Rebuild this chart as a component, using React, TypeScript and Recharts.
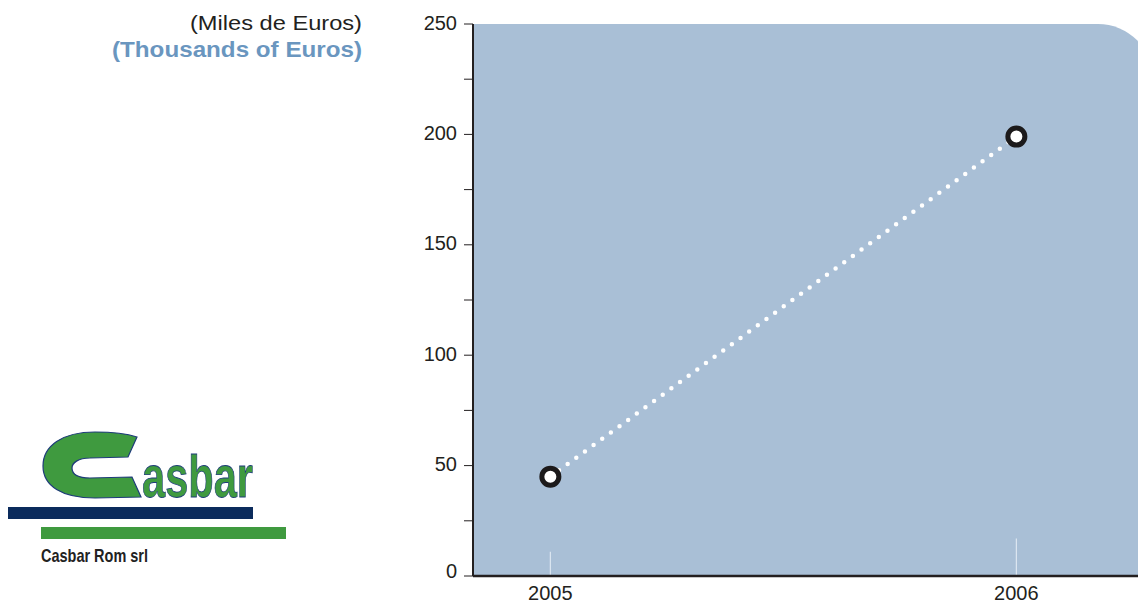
import React from 'react';
import { LineChart, Line, XAxis, YAxis, ReferenceArea, ReferenceLine } from 'recharts';

// values
const years = [2005, 2006];
const revenue = [45, 199];
const yTicks = [0, 25, 50, 75, 100, 125, 150, 175, 200, 225, 250];
const xDomain = [2004.834, 2006.261];
const markerTops = [11, 17];

const data = years.map((year, i) => ({ year, revenue: revenue[i] }));

const ink = '#231f20';
const plotFill = '#a9bfd6';
const green = '#3f9a3f';
const navy = '#0b2b5c';
const font = "'Liberation Sans', Arial, sans-serif";

const PlotBackground = (props: any) => {
    const { x, y, width, height } = props;
    const r = 55;
    const right = x + width + 15;
    const bottom = y + height;
    const d = `M${x},${y} H${right - r} A${r},${r} 0 0 1 ${right},${y + r} V${bottom} H${x} Z`;
    return <path d={d} fill={plotFill} />;
};

const RingDot = (props: any) => {
    const { cx, cy, index } = props;
    if (cx == null || cy == null) return null;
    return <circle key={index} cx={cx} cy={cy} r={8.5} fill="#ffffff" stroke="#1c1a1b" strokeWidth={5} />;
};

const YTick = (props: any) => {
    const { x, y, payload } = props;
    const v = payload.value;
    if (v % 50 !== 0) return null;
    // the zero label sits a little higher in the original
    const shift = v === 0 ? -5 : -1.5;
    return (
        <text x={x} y={y + shift} dy="0.355em" textAnchor="end" fill={ink} fontSize={20} fontFamily={font}>
            {v}
        </text>
    );
};

const Logo = () => (
    <svg width={1138} height={604} style={{ position: 'absolute', left: 0, top: 0, pointerEvents: 'none' }}>
        <text x={362} y={30} textAnchor="end" fontSize={21} fill={ink} textLength={172} lengthAdjust="spacingAndGlyphs"
            fontFamily={font}>(Miles de Euros)</text>
        <text x={362} y={57} textAnchor="end" fontSize={22} fontWeight="bold" fill="#6a96bf" textLength={250} lengthAdjust="spacingAndGlyphs"
            fontFamily={font}>(Thousands of Euros)</text>

        {/* big C */}
        <path
            d="M137,437 L128,457 L90,458 C78,458 72,463 72,468 C72,474 78,478 90,478 L132,477 L141,497 L95,498 C62,498 43,486 43,466 C43,446 62,432 95,432 C115,432 128,434 137,437 Z"
            fill={green} stroke="#1e3b7a" strokeWidth={1.2}
        />
        <text x={142} y={497} fontSize={60} fontWeight="bold" fill={green} stroke="#1e3b7a" strokeWidth={0.8}
            textLength={111} lengthAdjust="spacingAndGlyphs"
            fontFamily="'Liberation Sans Narrow', 'Liberation Sans', Arial, sans-serif">asbar</text>
        <rect x={8} y={507} width={245} height={12} fill={navy} />
        <rect x={41} y={527} width={245} height={12} fill={green} />
        <text x={41} y={562} fontSize={19} fontWeight="bold" fill="#222" textLength={107} lengthAdjust="spacingAndGlyphs"
            fontFamily="'Liberation Sans Narrow', 'Liberation Sans', Arial, sans-serif">Casbar Rom srl</text>
    </svg>
);

export default function App() {
    return (
        <div style={{ position: 'absolute', left: 0, top: 0, width: 1138, height: 604, overflow: 'hidden', background: '#fff' }}>
            <LineChart
                width={1138}
                height={604}
                data={data}
                margin={{ top: 24, right: 0, left: 0, bottom: 0 }}
                style={{ fontFamily: font }}
            >
                <ReferenceArea
                    x1={xDomain[0]}
                    x2={xDomain[1]}
                    y1={0}
                    y2={250}
                    ifOverflow="visible"
                    shape={(p: any) => <PlotBackground {...p} />}
                />
                {years.map((yr, i) => (
                    <ReferenceLine
                        key={yr}
                        segment={[{ x: yr, y: 0 }, { x: yr, y: markerTops[i] }]}
                        stroke="#dde7f1"
                        strokeWidth={1.2}
                        ifOverflow="visible"
                    />
                ))}
                <XAxis
                    dataKey="year"
                    type="number"
                    domain={xDomain}
                    ticks={years}
                    allowDataOverflow
                    height={28}
                    tickSize={0}
                    tickMargin={10}
                    tickLine={false}
                    axisLine={{ stroke: ink, strokeWidth: 2.5 }}
                    tick={{ fill: ink, fontSize: 20 }}
                />
                <YAxis
                    domain={[0, 250]}
                    ticks={yTicks}
                    interval={0}
                    width={473}
                    tickSize={9}
                    tickMargin={7}
                    axisLine={{ stroke: ink, strokeWidth: 2 }}
                    tickLine={{ stroke: ink, strokeWidth: 1 }}
                    tick={<YTick />}
                />
                <Line
                    type="linear"
                    dataKey="revenue"
                    stroke="#ffffff"
                    strokeWidth={4.5}
                    strokeDasharray="0 10.7"
                    strokeLinecap="round"
                    dot={<RingDot />}
                    activeDot={false}
                    isAnimationActive={false}
                />
            </LineChart>
            <Logo />
        </div>
    );
}
